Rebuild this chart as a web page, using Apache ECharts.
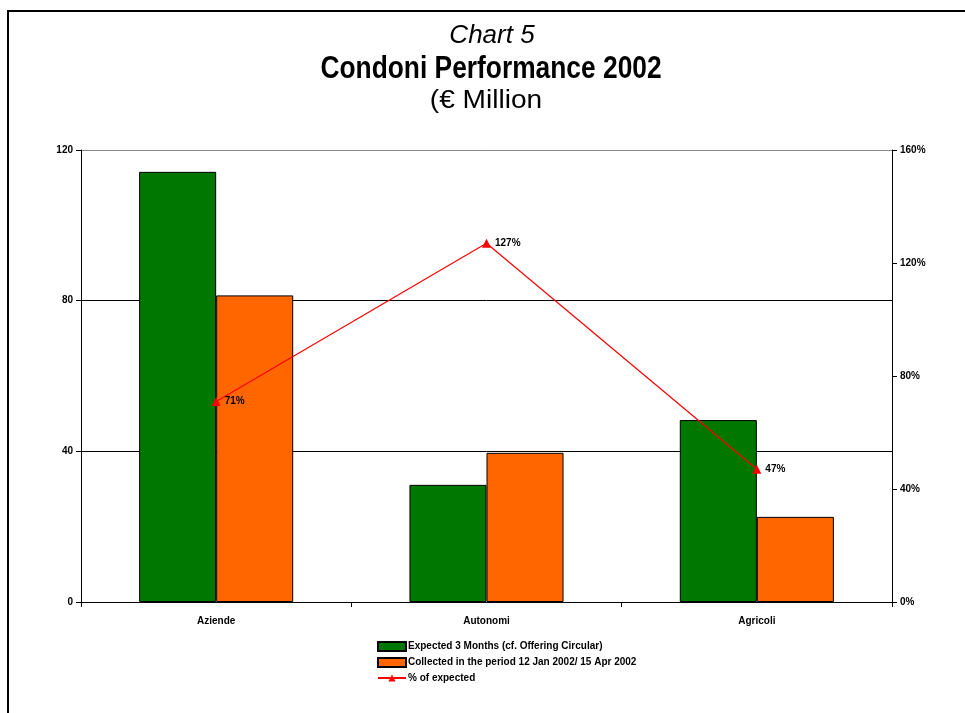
<!DOCTYPE html>
<html>
<head>
<meta charset="utf-8">
<script src="https://cdn.jsdelivr.net/npm/echarts@6/dist/echarts.min.js"></script>
<style>
  html, body { margin: 0; padding: 0; background: #fff; }
  #chart { width: 965px; height: 713px; }
</style>
</head>
<body>
<div id="chart"></div>
<script>
// Condoni performance 2002, € million
const categories = ['Aziende', 'Autonomi', 'Agricoli'];
const expected = [114.2, 31.1, 48.3];
const collected = [81.4, 39.6, 22.6];
const pctExpected = [71, 127, 47];
const leftTicks = [0, 40, 80, 120];
const rightTicks = [0, 40, 80, 120, 160];

const seriesNames = [
  'Expected 3 Months (cf. Offering Circular)',
  'Collected in the period 12 Jan 2002/ 15 Apr 2002',
  '% of expected'
];

const FONT = '"Liberation Sans", Arial, sans-serif';

const chart = echarts.init(document.getElementById('chart'), null, { renderer: 'canvas' });

chart.setOption({
  backgroundColor: '#ffffff',
  animation: false,
  graphic: [
    {
      type: 'polyline',
      shape: { points: [[8, 713], [8, 11], [965, 11]] },
      style: { stroke: '#000', lineWidth: 2, fill: null },
      z: 10
    },
    {
      type: 'text', x: 492, y: 23,
      style: { text: 'Chart 5', font: 'italic 26px ' + FONT, fill: '#000', textAlign: 'center' }
    },
    {
      type: 'text', x: 491, y: 54, scaleX: 0.85, originX: 0,
      style: { text: 'Condoni Performance 2002', font: 'bold 31px ' + FONT, fill: '#000', textAlign: 'center' }
    },
    {
      type: 'text', x: 486, y: 88, scaleX: 1.08,
      style: { text: '(€ Million', font: '26px ' + FONT, fill: '#000', textAlign: 'center' }
    }
  ],
  legend: {
    orient: 'vertical',
    left: 377,
    top: 641,
    padding: 0,
    itemWidth: 28,
    itemHeight: 9,
    itemGap: 5,
    data: [
      { name: seriesNames[0], icon: 'rect' },
      { name: seriesNames[1], icon: 'rect' },
      { name: seriesNames[2] }
    ],
    textStyle: { fontFamily: FONT, fontWeight: 'bold', fontSize: 10, color: '#000', padding: [0, 0, 0, -3] }
  },
  grid: { left: 81, right: 73, top: 150, bottom: 111, containLabel: false },
  xAxis: {
    type: 'category',
    data: categories,
    axisLine: { lineStyle: { color: '#000', width: 1 } },
    axisTick: { show: true, alignWithLabel: false, length: 5, inside: false, lineStyle: { color: '#000' } },
    axisLabel: { fontFamily: FONT, fontWeight: 'bold', fontSize: 10, color: '#000', margin: 14 }
  },
  yAxis: [
    {
      type: 'value',
      min: 0, max: 120, interval: 40,
      axisLine: { show: true, lineStyle: { color: '#000' } },
      axisTick: { show: true, length: 5, lineStyle: { color: '#000' } },
      axisLabel: {
        fontFamily: FONT, fontWeight: 'bold', fontSize: 10, color: '#000', margin: 8,
        formatter: v => leftTicks.includes(v) ? String(v) : ''
      },
      splitLine: { show: true, lineStyle: { color: ['#000', '#000', '#000', '#888'], width: 1 } }
    },
    {
      type: 'value',
      min: 0, max: 160, interval: 40,
      axisLine: { show: true, lineStyle: { color: '#000' } },
      axisTick: { show: true, length: 5, lineStyle: { color: '#000' } },
      axisLabel: {
        fontFamily: FONT, fontWeight: 'bold', fontSize: 10, color: '#000', margin: 8,
        formatter: v => rightTicks.includes(v) ? v + '%' : ''
      },
      splitLine: { show: false }
    }
  ],
  series: [
    {
      name: seriesNames[0],
      type: 'bar',
      data: expected,
      barGap: '0%',
      barCategoryGap: '43%',
      itemStyle: { color: '#007700', borderColor: '#000', borderWidth: 1 }
    },
    {
      name: seriesNames[1],
      type: 'bar',
      data: collected,
      itemStyle: { color: '#FF6600', borderColor: '#000', borderWidth: 1 }
    },
    {
      name: seriesNames[2],
      type: 'line',
      yAxisIndex: 1,
      data: pctExpected,
      symbol: 'triangle',
      symbolSize: 9,
      lineStyle: { color: '#FF0000', width: 1.2 },
      itemStyle: { color: '#FF0000' },
      label: {
        show: true,
        position: 'right',
        distance: 4,
        formatter: p => p.value + '%',
        fontFamily: FONT, fontWeight: 'bold', fontSize: 10, color: '#000'
      },
      z: 5
    }
  ]
});
</script>
</body>
</html>
